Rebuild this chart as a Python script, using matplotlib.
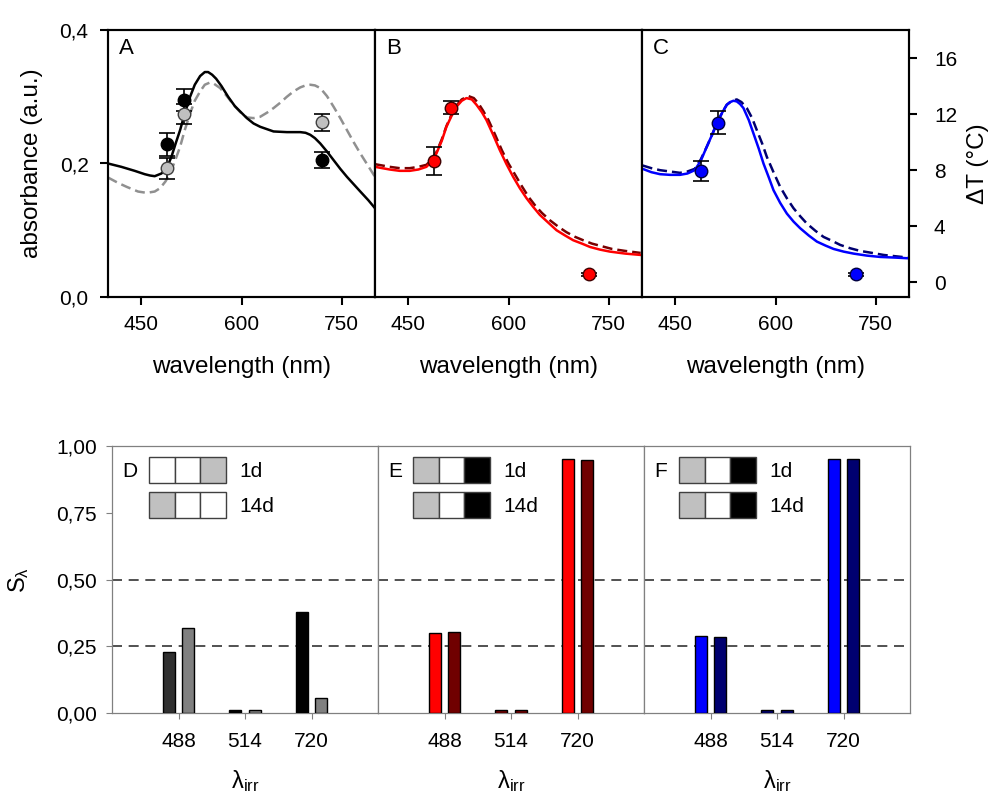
import numpy as np
import matplotlib
matplotlib.use("Agg")
import matplotlib.pyplot as plt
from matplotlib.patches import Rectangle

plt.rcParams['font.family'] = ['Liberation Sans', 'DejaVu Sans']
plt.rcParams['mathtext.fontset'] = 'custom'
plt.rcParams['mathtext.rm'] = 'Liberation Sans'
plt.rcParams['mathtext.it'] = 'Liberation Sans:italic'

# ---------------- top row: absorbance spectra ----------------
wl_A_solid = [400, 420, 440, 455, 463, 470, 480, 488, 495, 502, 508, 515, 523, 530, 538, 545, 550, 556, 562,
              570, 580, 590, 600, 608, 618, 628, 648, 668, 688, 696, 703, 710, 718, 728, 738, 748, 758, 768,
              778, 790, 800]
abs_A_solid = [0.200, 0.195, 0.189, 0.184, 0.182, 0.181, 0.185, 0.193, 0.210, 0.232, 0.250, 0.275, 0.300,
               0.318, 0.331, 0.337, 0.337, 0.333, 0.327, 0.316, 0.300, 0.286, 0.276, 0.268, 0.260, 0.255,
               0.248, 0.247, 0.247, 0.246, 0.243, 0.238, 0.230, 0.218, 0.205, 0.192, 0.180, 0.169, 0.158,
               0.145, 0.133]
wl_A_dash = [400, 415, 428, 445, 458, 470, 478, 486, 493, 500, 508, 515, 523, 530, 538, 545, 552, 558, 568,
             578, 588, 598, 608, 618, 628, 638, 648, 658, 668, 678, 688, 696, 703, 710, 718, 728, 738, 748,
             758, 768, 778, 790, 800]
abs_A_dash = [0.179, 0.171, 0.165, 0.158, 0.156, 0.158, 0.163, 0.173, 0.185, 0.203, 0.225, 0.250, 0.275,
              0.294, 0.308, 0.318, 0.321, 0.320, 0.313, 0.301, 0.288, 0.277, 0.269, 0.268, 0.270, 0.276,
              0.283, 0.291, 0.300, 0.308, 0.314, 0.317, 0.318, 0.317, 0.313, 0.301, 0.285, 0.268, 0.250,
              0.232, 0.215, 0.196, 0.180]

wl_B_solid = [400, 411, 422, 437, 452, 465, 477, 485, 492, 500, 507, 515, 522, 530, 537, 545, 552, 560, 567,
              577, 587, 597, 607, 617, 627, 637, 647, 660, 672, 685, 697, 710, 722, 737, 752, 775, 798]
abs_B_solid = [0.195, 0.193, 0.191, 0.189, 0.189, 0.191, 0.195, 0.203, 0.215, 0.234, 0.255, 0.272, 0.285,
               0.294, 0.298, 0.296, 0.288, 0.277, 0.265, 0.243, 0.220, 0.199, 0.180, 0.163, 0.148, 0.135,
               0.123, 0.111, 0.100, 0.092, 0.085, 0.080, 0.075, 0.071, 0.068, 0.065, 0.063]
wl_B_dash = [400, 411, 422, 437, 452, 465, 477, 485, 492, 500, 507, 515, 522, 530, 540, 548, 555, 562, 570,
             580, 590, 600, 610, 620, 630, 640, 650, 662, 675, 687, 700, 712, 725, 740, 755, 775, 798]
abs_B_dash = [0.199, 0.197, 0.195, 0.193, 0.193, 0.195, 0.198, 0.206, 0.217, 0.236, 0.256, 0.274, 0.287,
              0.296, 0.301, 0.298, 0.290, 0.279, 0.265, 0.243, 0.220, 0.200, 0.183, 0.166, 0.150, 0.137,
              0.126, 0.115, 0.105, 0.097, 0.090, 0.085, 0.080, 0.076, 0.072, 0.069, 0.066]

wl_C_solid = [401, 414, 427, 442, 457, 468, 479, 488, 497, 505, 512, 520, 527, 532, 537, 542, 547, 552, 560,
              567, 575, 582, 590, 597, 607, 617, 627, 637, 650, 662, 675, 687, 702, 717, 737, 757, 780, 799]
abs_C_solid = [0.192, 0.187, 0.184, 0.183, 0.183, 0.185, 0.190, 0.204, 0.225, 0.243, 0.260, 0.276, 0.288,
               0.292, 0.294, 0.293, 0.289, 0.283, 0.265, 0.245, 0.222, 0.200, 0.179, 0.160, 0.141, 0.125,
               0.113, 0.103, 0.092, 0.083, 0.077, 0.072, 0.068, 0.065, 0.062, 0.060, 0.059, 0.058]
wl_C_dash = [401, 414, 427, 442, 457, 468, 479, 488, 497, 505, 512, 520, 527, 535, 542, 549, 557, 565, 572,
             580, 587, 597, 607, 617, 627, 637, 647, 660, 672, 685, 697, 712, 727, 745, 762, 780, 799]
abs_C_dash = [0.197, 0.193, 0.190, 0.188, 0.186, 0.188, 0.192, 0.206, 0.225, 0.243, 0.260, 0.276, 0.288,
              0.294, 0.296, 0.292, 0.283, 0.268, 0.250, 0.230, 0.210, 0.187, 0.165, 0.148, 0.133, 0.121,
              0.110, 0.099, 0.090, 0.084, 0.078, 0.073, 0.069, 0.066, 0.063, 0.061, 0.059]

# temperature increase points (right axis)
wl_irr = [488, 514, 720]
dT_A_1d = [9.84, 13.0, 8.71]
err_A_1d = [0.83, 0.76, 0.56]
dT_A_14d = [8.12, 12.0, 11.4]
err_A_14d = [0.77, 0.74, 0.63]
dT_B = [8.66, 12.45, 0.55]
err_B = [0.99, 0.48, 0.1]
dT_C = [7.95, 11.38, 0.55]
err_C = [0.71, 0.80, 0.1]

# ---------------- bottom row: selectivity ----------------
irr_labels = ['488', '514', '720']
S_D_1d = [0.23, 0.01, 0.38]
S_D_14d = [0.32, 0.01, 0.055]
S_E_1d = [0.30, 0.01, 0.952]
S_E_14d = [0.305, 0.01, 0.948]
S_F_1d = [0.29, 0.01, 0.952]
S_F_14d = [0.285, 0.01, 0.953]

cols_D_1d = ['#303030', '#000000', '#000000']
cols_D_14d = ['#808080', '#808080', '#808080']
cols_E_1d = ['#ff0000', '#700000', '#ff0000']
cols_E_14d = ['#700000', '#700000', '#700000']
cols_F_1d = ['#0000ff', '#000070', '#0000ff']
cols_F_14d = ['#000070', '#000070', '#000070']

cells_D = [['white', 'white', '#c0c0c0'], ['#c0c0c0', 'white', 'white']]
cells_E = [['#c0c0c0', 'white', 'black'], ['#c0c0c0', 'white', 'black']]
cells_F = [['#c0c0c0', 'white', 'black'], ['#c0c0c0', 'white', 'black']]

W, H = 993, 798
fig = plt.figure(figsize=(W / 100, H / 100), dpi=100)


def px_axes(left, top, right, bottom):
    return fig.add_axes([left / W, 1 - bottom / H, (right - left) / W, (bottom - top) / H])


tops = [
    ('A', 108, 375, wl_A_solid, abs_A_solid, 'black', wl_A_dash, abs_A_dash, '#909090'),
    ('B', 375, 642, wl_B_solid, abs_B_solid, '#ff0000', wl_B_dash, abs_B_dash, '#7a0000'),
    ('C', 642, 909, wl_C_solid, abs_C_solid, '#0000ff', wl_C_dash, abs_C_dash, '#000070'),
]

for i, (lab, l, r, xs, ys, cs, xd, yd, cd) in enumerate(tops):
    ax = px_axes(l, 30, r, 297)
    ax.plot(xs, ys, color=cs, lw=1.8, zorder=3)
    ax.plot(xd, yd, color=cd, lw=1.8, ls=(0, (4, 2)), zorder=2)
    ax.set_xlim(400, 800)
    ax.set_ylim(0, 0.4)
    ax.set_xticks([450, 600, 750])
    ax.set_xticklabels(['450', '600', '750'], fontsize=15)
    ax.tick_params(direction='out', length=6, width=1.5)
    ax.tick_params(axis='x', pad=7)
    for s in ax.spines.values():
        s.set_linewidth(1.5)
    if i == 0:
        ax.set_yticks([0, 0.2, 0.4])
        ax.set_yticklabels(['0,0', '0,2', '0,4'], fontsize=15)
        ax.tick_params(axis='y', pad=8)
        ax.set_ylabel('absorbance (a.u.)', fontsize=17.5, labelpad=12)
    else:
        ax.set_yticks([])
    ax.set_xlabel('wavelength (nm)', fontsize=17.5, labelpad=16)
    ax.text(0.04, 0.93, lab, transform=ax.transAxes, fontsize=16, va='center', ha='left')

    tw = ax.twinx()
    tw.set_ylim(-1.07, 18)
    tw.set_xlim(400, 800)
    if lab == 'A':
        tw.errorbar(wl_irr, dT_A_1d, yerr=err_A_1d, fmt='o', color='black', mfc='black', mec='black',
                    ms=9, capsize=6, elinewidth=1.2, capthick=1.2, zorder=5)
        tw.errorbar(wl_irr, dT_A_14d, yerr=err_A_14d, fmt='o', color='black', mfc='#c0c0c0',
                    mec='#404040', ms=9, capsize=6, elinewidth=1.2, capthick=1.2, zorder=5)
    elif lab == 'B':
        tw.errorbar(wl_irr, dT_B, yerr=err_B, fmt='o', color='black', mfc='#ff0000', mec='#400000',
                    ms=9, capsize=6, elinewidth=1.2, capthick=1.2, zorder=5)
    else:
        tw.errorbar(wl_irr, dT_C, yerr=err_C, fmt='o', color='black', mfc='#0000ff', mec='#000040',
                    ms=9, capsize=6, elinewidth=1.2, capthick=1.2, zorder=5)
    for s in tw.spines.values():
        s.set_linewidth(1.5)
    if lab == 'C':
        tw.set_yticks([0, 4, 8, 12, 16])
        tw.set_yticklabels(['0', '4', '8', '12', '16'], fontsize=15)
        tw.tick_params(direction='out', length=6, width=1.5, pad=12)
        tw.set_ylabel('\u0394T (\u00b0C)', fontsize=17.5, labelpad=7)
    else:
        tw.set_yticks([])

bottoms = [
    ('D', 112, 378, S_D_1d, S_D_14d, cols_D_1d, cols_D_14d, cells_D, 0.139),
    ('E', 378, 644, S_E_1d, S_E_14d, cols_E_1d, cols_E_14d, cells_E, 0.132),
    ('F', 644, 910, S_F_1d, S_F_14d, cols_F_1d, cols_F_14d, cells_F, 0.132),
]

pos = np.arange(1, 4)
for i, (lab, l, r, s1, s14, c1, c14, cells, cx) in enumerate(bottoms):
    ax = px_axes(l, 446, r, 713)
    ax.bar(pos - 0.15, s1, width=0.18, color=c1, edgecolor='black', lw=1, zorder=3)
    ax.bar(pos + 0.15, s14, width=0.18, color=c14, edgecolor='black', lw=1, zorder=3)
    ax.axhline(0.5, color='#333333', ls=(0, (6, 4)), lw=1.2, zorder=1)
    ax.axhline(0.25, color='#333333', ls=(0, (6, 4)), lw=1.2, zorder=1)
    ax.set_xlim(0, 4)
    ax.set_ylim(0, 1)
    ax.set_xticks(pos)
    ax.set_xticklabels(irr_labels, fontsize=15)
    ax.tick_params(axis='x', direction='out', length=4, width=0.8, color='#808080', pad=10)
    for s in ax.spines.values():
        s.set_linewidth(0.9)
        s.set_color('#808080')
    if i == 0:
        ax.set_yticks([0, 0.25, 0.5, 0.75, 1.0])
        ax.set_yticklabels(['0,00', '0,25', '0,50', '0,75', '1,00'], fontsize=15)
        ax.tick_params(axis='y', direction='out', length=4, width=0.8, color='#808080', pad=7)
        ax.set_ylabel(r'$\mathregular{S_{\lambda}}$', fontsize=17, labelpad=18)
    else:
        ax.set_yticks([])
    ax.set_xlabel(r'$\mathregular{\lambda_{irr}}$', fontsize=17, labelpad=12)

    ax.text(0.04, 0.905, lab, transform=ax.transAxes, fontsize=15, va='center', ha='left')
    cw = 0.0965
    for row, (yb, yt) in enumerate([(0.861, 0.959), (0.730, 0.828)]):
        for k, fc in enumerate(cells[row]):
            ax.add_patch(Rectangle((cx + k * cw, yb), cw, yt - yb, transform=ax.transAxes,
                                   facecolor=fc, edgecolor='#404040', lw=1, zorder=4))
    ax.text(cx + 3 * cw + 0.05, 0.905, '1d', transform=ax.transAxes, fontsize=15, va='center')
    ax.text(cx + 3 * cw + 0.05, 0.772, '14d', transform=ax.transAxes, fontsize=15, va='center')

fig.savefig('out.png', dpi=100)
